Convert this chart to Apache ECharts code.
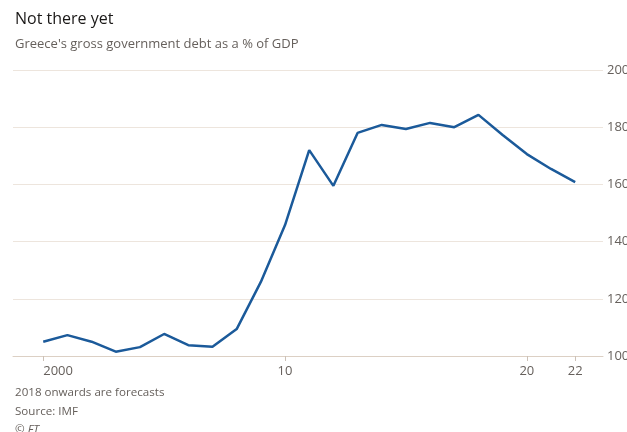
<!DOCTYPE html>
<html><head><meta charset="utf-8">
<script src="https://cdn.jsdelivr.net/npm/echarts@6/dist/echarts.min.js"></script>
<style>html,body{margin:0;padding:0;background:#fff}#c{width:627px;height:432px}</style>
</head><body><div id="c"></div>
<script>
var years = [2000,2001,2002,2003,2004,2005,2006,2007,2008,2009,2010,2011,2012,2013,2014,2015,2016,2017,2018,2019,2020,2021,2022];
var debt = [105.0,107.3,105.0,101.5,103.1,107.7,103.8,103.2,109.4,125.9,145.8,172.0,159.5,178.0,180.8,179.4,181.5,180.0,184.3,177.3,170.6,165.4,160.8];
var xTicks = [2000,2010,2020,2022];
var xTickLabels = {2000:'2000',2010:'10',2020:'20',2022:'22'};
var yTicks = [100,120,140,160,180,200];

var chart = echarts.init(document.getElementById('c'));
var font = 'Open Sans';
chart.setOption({
  backgroundColor:'#fff',
  animation:false,
  title:[
    {text:'Not there yet',left:10,top:6,textStyle:{fontFamily:font,fontSize:16,fontWeight:'normal',color:'#1a1817'}},
    {text:"Greece's gross government debt as a % of GDP",left:10,top:33,textStyle:{fontFamily:font,fontSize:13,fontWeight:'normal',color:'#66605c'}},
    {text:'2018 onwards are forecasts',left:10,top:382,textStyle:{fontFamily:font,fontSize:11.6,fontWeight:'normal',color:'#66605c'}},
    {text:'Source: IMF',left:10,top:401,textStyle:{fontFamily:font,fontSize:11.6,fontWeight:'normal',color:'#66605c'}},
    {text:'© FT',left:10,top:419,textStyle:{fontFamily:font,fontSize:11.6,fontStyle:'italic',fontWeight:'normal',color:'#66605c'}}
  ],
  grid:{left:13,right:24,top:70,bottom:76,containLabel:false,outerBoundsMode:'none'},
  xAxis:{
    type:'value',min:1998.75,max:2023.15,
    axisLine:{show:true,lineStyle:{color:'#dcd0c4',width:1}},
    axisTick:{show:true,customValues:xTicks,length:5,lineStyle:{color:'#ccc1b7'}},
    axisLabel:{customValues:xTicks,margin:9,alignMinLabel:'left',fontFamily:font,fontSize:13,color:'#66605c',
      formatter:function(v){return xTickLabels[v]||'';}},
    splitLine:{show:false}
  },
  yAxis:{
    type:'value',position:'right',min:100,max:200,interval:20,
    axisLine:{show:false},axisTick:{show:false},
    axisLabel:{margin:4,fontFamily:font,fontSize:13,color:'#66605c'},
    splitLine:{lineStyle:{color:'#ede5dd',width:1}}
  },
  series:[{
    type:'line',data:years.map(function(y,i){return [y,debt[i]];}),
    showSymbol:false,lineStyle:{color:'#1b5a9a',width:2.5},z:3
  }]
});
</script></body></html>
